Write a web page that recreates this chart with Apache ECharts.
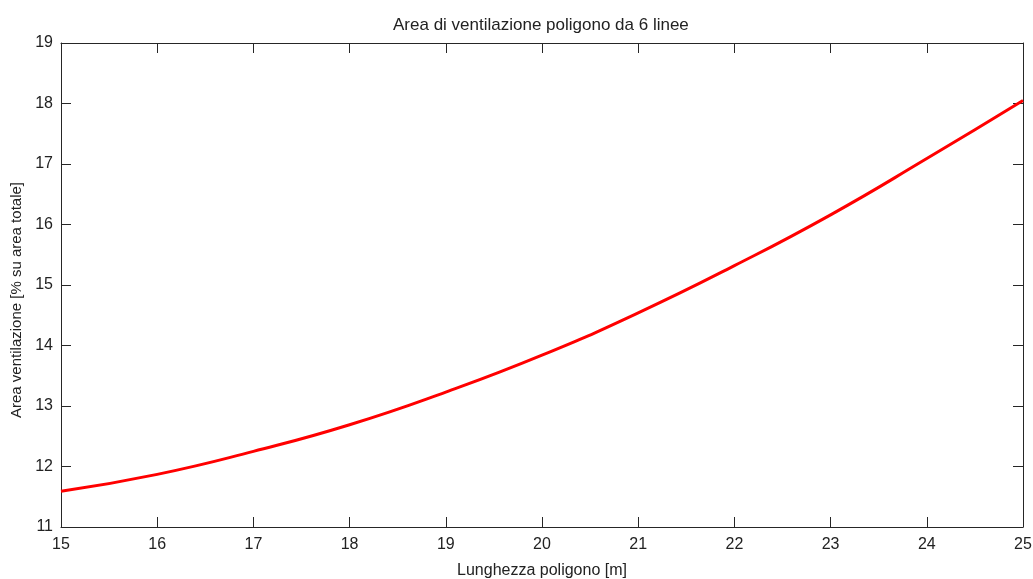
<!DOCTYPE html>
<html>
<head>
<meta charset="utf-8">
<title>Area di ventilazione</title>
<script src="https://cdn.jsdelivr.net/npm/echarts@6/dist/echarts.min.js"></script>
<style>
    html, body { margin: 0; padding: 0; background: #fff; }
    #chart { width: 1033px; height: 579px; }
</style>
</head>
<body>
<div id="chart"></div>
<script>
    // lunghezza poligono [m]
    var lunghezza = [15, 16, 17, 18, 19, 20, 21, 22, 23, 24, 25];
    // area ventilazione [% su area totale]
    var areaVent = [11.59, 11.87, 12.25, 12.69, 13.23, 13.84, 14.54, 15.32, 16.16, 17.09, 18.05];
    var xTicks = [15, 16, 17, 18, 19, 20, 21, 22, 23, 24, 25];
    var yTicks = [11, 12, 13, 14, 15, 16, 17, 18, 19];

    var axisColor = '#262626';
    var font = 'Liberation Sans, Arial, sans-serif';

    var punti = [];
    for (var i = 0; i < lunghezza.length; i++) {
        punti.push([lunghezza[i], areaVent[i]]);
    }

    function baseAxis(pos, showLabel) {
        return {
            type: 'value',
            position: pos,
            splitLine: { show: false },
            axisLine: { show: true, onZero: false, lineStyle: { color: axisColor, width: 1 } },
            axisTick: { show: true, inside: true, length: 10, lineStyle: { color: axisColor } },
            axisLabel: { show: showLabel, color: '#222', fontSize: 16, fontFamily: font }
        };
    }

    var xBottom = baseAxis('bottom', true);
    xBottom.min = xTicks[0];
    xBottom.max = xTicks[xTicks.length - 1];
    xBottom.interval = 1;
    xBottom.name = 'Lunghezza poligono [m]';
    xBottom.nameLocation = 'middle';
    xBottom.nameGap = 36;
    xBottom.nameTextStyle = { color: '#222', fontSize: 16, fontFamily: font };
    xBottom.axisLabel.margin = 10;

    var xTop = baseAxis('top', false);
    xTop.min = xTicks[0];
    xTop.max = xTicks[xTicks.length - 1];
    xTop.interval = 1;

    var yLeft = baseAxis('left', true);
    yLeft.min = yTicks[0];
    yLeft.max = yTicks[yTicks.length - 1];
    yLeft.interval = 1;
    yLeft.name = 'Area ventilazione [% su area totale]';
    yLeft.nameLocation = 'middle';
    yLeft.nameGap = 34;
    // spostato un po' verso il basso come nell'originale
    yLeft.nameTextStyle = { color: '#222', fontSize: 15, fontFamily: font, padding: [0, 30, 0, 0] };
    yLeft.axisLabel.margin = 8;

    var yRight = baseAxis('right', false);
    yRight.min = yTicks[0];
    yRight.max = yTicks[yTicks.length - 1];
    yRight.interval = 1;

    var chart = echarts.init(document.getElementById('chart'));
    chart.setOption({
        backgroundColor: '#fff',
        animation: false,
        title: {
            text: 'Area di ventilazione poligono da 6 linee',
            left: 388,
            top: 12,
            textStyle: { color: '#222', fontSize: 17, fontWeight: 'normal', fontFamily: font }
        },
        grid: { left: 61, right: 10, top: 43, bottom: 52, outerBoundsMode: 'none' },
        xAxis: [xBottom, xTop],
        yAxis: [yLeft, yRight],
        series: [{
            type: 'line',
            data: punti,
            smooth: true,
            showSymbol: false,
            lineStyle: { color: '#ff0000', width: 3 }
        }]
    });
</script>
</body>
</html>
